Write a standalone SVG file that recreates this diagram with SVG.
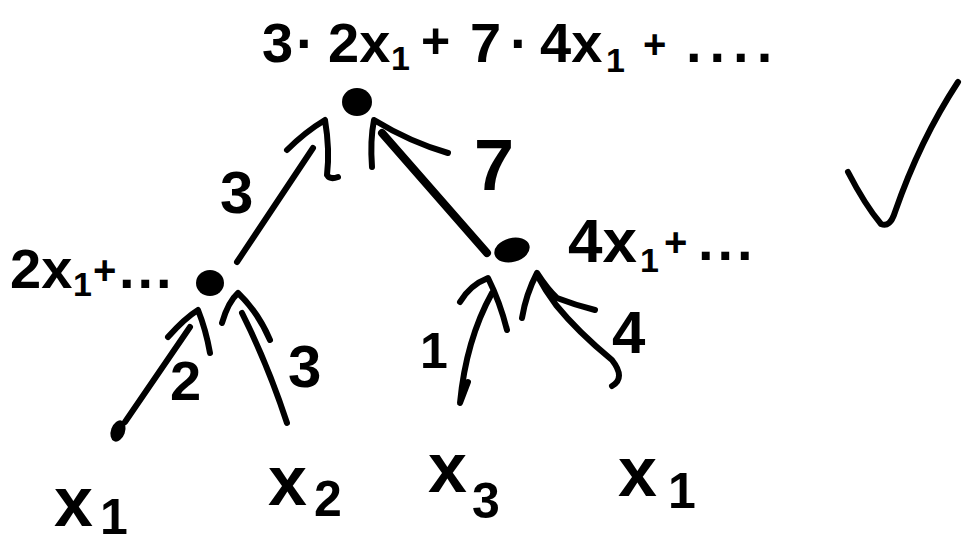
<svg xmlns="http://www.w3.org/2000/svg" width="963" height="546" viewBox="0 0 963 546">
<style>
text{font-family:"Liberation Sans","DejaVu Sans",sans-serif;fill:#000;font-weight:bold}
.big{font-size:56px}
.sub{font-size:34px}
.plus{font-size:40px}
.lbl{font-size:56px}
.el{font-size:60px}
.leaf{font-size:70px}
.leafsub{font-size:50px}
.dot{fill:#000}
.edge{fill:none;stroke:#000;stroke-width:6;stroke-linecap:round;stroke-linejoin:round}
.thick{stroke-width:8}
.head{fill:none;stroke:#000;stroke-width:6;stroke-linecap:round;stroke-linejoin:round}
</style>
<rect width="963" height="546" fill="#fff"/>
<g id="connectors">
  <path class="edge" d="M237,262 L313,148"/>
  <path class="head" d="M287,150 Q305,132 325,120 Q330,150 327,175 Q330,180 338,177"/>
  <path class="edge thick" d="M487,253 L382,133"/>
  <path class="head" d="M372,167 Q370,140 374,120 Q410,142 448,153"/>
  <path class="edge" d="M125,422 L190,327"/>
  <path class="head" d="M168,337 Q185,318 198,310 Q206,330 210,353"/>
  <path class="edge" d="M287,423 Q268,365 242,313"/>
  <path class="head" d="M222,323 Q228,302 238,293 Q258,312 270,340"/>
  <path class="edge" d="M468,382 L460,403 Q466,340 492,293"/>
  <path class="head" d="M460,302 Q470,285 488,278 Q500,302 507,330"/>
  <path class="edge" d="M612,386 Q626,378 612,360 Q578,332 556,305 Q545,290 537,275"/>
  <path class="head" d="M522,318 Q526,294 537,273 Q548,290 557,298 Q575,305 595,310"/>
  <text class="el" x="220" y="213">3</text>
  <text class="el" x="474" y="190" style="font-size:72px">7</text>
  <text class="lbl" x="170" y="400">2</text>
  <text class="el" x="288" y="387">3</text>
  <text class="lbl" x="420" y="368" style="font-size:50px">1</text>
  <text class="el" x="612" y="353">4</text>
</g>
<g id="node-root">
  <ellipse class="dot" cx="357" cy="102" rx="15" ry="14"/>
  <text class="big" y="62"><tspan x="262">3</tspan><tspan x="296">·</tspan><tspan x="328">2x</tspan><tspan class="sub" x="391" y="70">1</tspan><tspan x="421" y="58" style="font-size:50px">+</tspan><tspan x="470" y="62">7</tspan><tspan x="510">·</tspan><tspan x="540">4x</tspan><tspan class="sub" x="606" y="72">1</tspan><tspan class="plus" x="643" y="58">+</tspan><tspan x="686" y="62" letter-spacing="8">....</tspan></text>
</g>
<g id="node-left">
  <ellipse class="dot" cx="210" cy="283" rx="14" ry="13"/>
  <text class="lbl" y="288"><tspan x="10">2x</tspan><tspan class="sub" x="73" y="296">1</tspan><tspan class="plus" x="93" y="284">+</tspan><tspan x="119" y="288" letter-spacing="3">...</tspan></text>
</g>
<g id="node-right">
  <ellipse class="dot" cx="512" cy="250" rx="18" ry="12" transform="rotate(-15 512 250)"/>
  <text class="lbl" y="262"><tspan x="568" style="font-size:62px">4x</tspan><tspan class="sub" x="640" y="272">1</tspan><tspan class="plus" x="664" y="256">+</tspan><tspan x="698" y="260" letter-spacing="4">...</tspan></text>
</g>
<g id="node-x1">
  <ellipse class="dot" cx="118" cy="431" rx="7" ry="11" transform="rotate(20 118 431)"/>
  <text class="leaf" y="526"><tspan x="54">x</tspan><tspan class="leafsub" x="100" y="534">1</tspan></text>
</g>
<g id="node-x2">
  <text class="leaf" y="505"><tspan x="268">x</tspan><tspan class="leafsub" x="314" y="516">2</tspan></text>
</g>
<g id="node-x3">
  <text class="leaf" y="492"><tspan x="428">x</tspan><tspan class="leafsub" x="472" y="518">3</tspan></text>
</g>
<g id="node-x1b">
  <text class="leaf" y="496"><tspan x="618">x</tspan><tspan class="leafsub" x="668" y="508">1</tspan></text>
</g>
<g id="check">
  <path class="edge" d="M848,172 Q865,205 881,224 Q890,228 895,212 Q920,140 958,82"/>
</g>
</svg>
